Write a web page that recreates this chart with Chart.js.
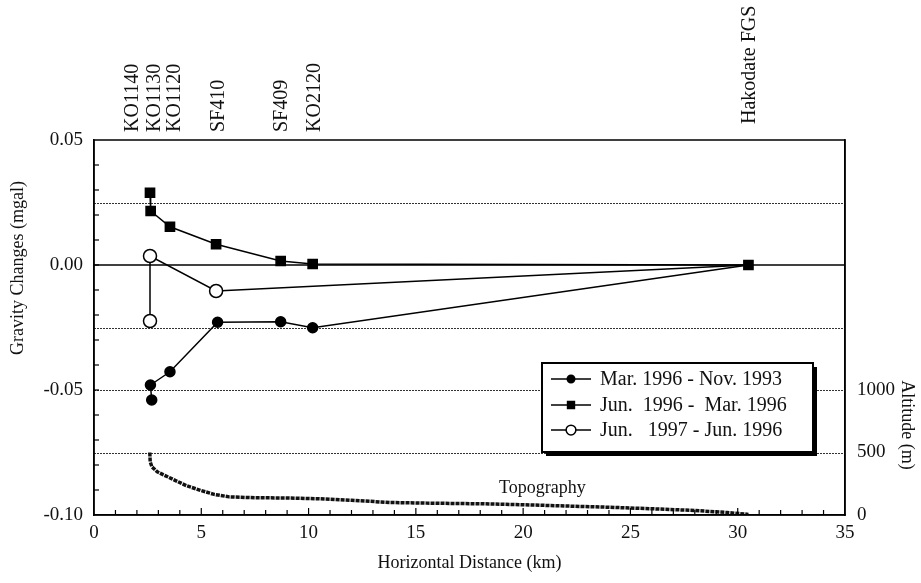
<!DOCTYPE html>
<html>
<head>
<meta charset="utf-8">
<script src="https://cdn.jsdelivr.net/npm/chart.js@4/dist/chart.umd.min.js"></script>
<style>
    html, body { margin: 0; padding: 0; background: #fff; }
    canvas { display: block; }
</style>
</head>
<body>
<canvas id="gravityChart" width="921" height="583"></canvas>
<script>
// stations marked along the top edge (label position in km)
const stationNames = ["KO1140", "KO1130", "KO1120", "SF410", "SF409", "KO2120", "Hakodate FGS"];
const stationLabelKm = [1.82, 2.84, 3.77, 5.82, 8.76, 10.3, 30.57];

// Mar. 1996 - Nov. 1993
const marDist = [2.69, 2.63, 3.54, 5.76, 8.7, 10.19, 30.5];
const marGrav = [-0.054, -0.048, -0.0427, -0.0229, -0.0227, -0.0251, 0];

// Jun. 1996 - Mar. 1996
const junDist = [2.61, 2.64, 3.54, 5.69, 8.7, 10.19, 30.5];
const junGrav = [0.0289, 0.0216, 0.0153, 0.0083, 0.0016, 0.0004, 0];

// Jun. 1997 - Jun. 1996
const jun97Dist = [2.61, 2.61, 5.69, 30.5];
const jun97Grav = [-0.0224, 0.0036, -0.0104, 0];

// topography profile (km, m)
const topoDist = [2.6, 2.62, 2.7, 2.95, 3.5, 4.3, 5.0, 5.6, 6.3, 7.5, 9.0, 10.5, 12, 13.8, 15.5, 18, 20, 22, 24, 26, 28, 29.5, 30.5];
const topoAlt = [500, 425, 385, 345, 300, 235, 195, 165, 145, 138, 136, 130, 118, 100, 95, 90, 82, 72, 62, 50, 36, 20, 5];

const gridLevels = [0.025, -0.025, -0.05, -0.075];
const altitudeTicks = [0, 500, 1000];

const legendLabels = ["Mar. 1996 - Nov. 1993", "Jun.  1996 -  Mar. 1996", "Jun.   1997 - Jun. 1996"];

const toPoints = (xs, ys) => xs.map((x, i) => ({ x: x, y: ys[i] }));

// the reference station (last point) only shows the square marker
const hideLast = (r) => (ctx) => ctx.dataIndex === ctx.dataset.data.length - 1 ? 0 : r;

const FONT = "'Liberation Serif', 'DejaVu Serif', serif";
Chart.defaults.font.family = FONT;
Chart.defaults.font.size = 19;
Chart.defaults.color = "#111";

const decorations = {
    id: "decorations",
    beforeDatasetsDraw(chart) {
        const { ctx, chartArea, scales } = chart;
        ctx.save();
        gridLevels.forEach((v) => {
            const y = Math.round(scales.y.getPixelForValue(v)) + 0.5;
            ctx.strokeStyle = "#333";
            ctx.lineWidth = 1;
            ctx.setLineDash([2, 1]);
            ctx.beginPath();
            ctx.moveTo(chartArea.left, y);
            ctx.lineTo(chartArea.right, y);
            ctx.stroke();
        });
        ctx.setLineDash([]);
        const y0 = scales.y.getPixelForValue(0);
        ctx.strokeStyle = "#000";
        ctx.lineWidth = 1.5;
        ctx.beginPath();
        ctx.moveTo(chartArea.left, y0);
        ctx.lineTo(chartArea.right, y0);
        ctx.stroke();
        ctx.restore();
    },
    afterDraw(chart) {
        const { ctx, chartArea, scales } = chart;
        const { left, right, top, bottom } = chartArea;
        ctx.save();

        // frame
        ctx.strokeStyle = "#000";
        ctx.lineWidth = 1.5;
        ctx.strokeRect(left, top, right - left, bottom - top);

        // inward tick marks
        ctx.lineWidth = 1.2;
        for (let k = 1; k < 35; k++) {
            const x = scales.x.getPixelForValue(k);
            const len = k % 5 === 0 ? 7 : 5;
            ctx.beginPath();
            ctx.moveTo(x, bottom);
            ctx.lineTo(x, bottom - len);
            ctx.stroke();
        }
        for (let g = -9; g <= 4; g++) {
            const y = scales.y.getPixelForValue(g / 100);
            ctx.beginPath();
            ctx.moveTo(left, y);
            ctx.lineTo(left + 5, y);
            ctx.stroke();
        }

        // station labels
        ctx.fillStyle = "#111";
        ctx.font = "20px " + FONT;
        ctx.textAlign = "left";
        ctx.textBaseline = "middle";
        stationNames.forEach((name, i) => {
            const x = scales.x.getPixelForValue(stationLabelKm[i]);
            ctx.save();
            ctx.translate(x, top - (i === stationNames.length - 1 ? 16 : 8));
            ctx.rotate(-Math.PI / 2);
            ctx.fillText(name, 0, 0);
            ctx.restore();
        });

        // axis titles
        ctx.font = "18px " + FONT;
        ctx.textAlign = "center";
        ctx.save();
        ctx.translate(18, 268);
        ctx.rotate(-Math.PI / 2);
        ctx.fillText("Gravity Changes (mgal)", 0, 0);
        ctx.restore();

        ctx.fillText("Horizontal Distance (km)", (left + right) / 2, 563);

        ctx.save();
        ctx.translate(907, 425);
        ctx.rotate(Math.PI / 2);
        ctx.fillText("Altitude (m)", 0, 0);
        ctx.restore();

        // topography label
        ctx.fillText("Topography", scales.x.getPixelForValue(20.9), scales.y2.getPixelForValue(216));

        // legend
        const lx = 542, ly = 363, lw = 271, lh = 89;
        ctx.fillStyle = "#000";
        ctx.fillRect(lx + 4, ly + 4, lw, lh);
        ctx.fillStyle = "#fff";
        ctx.fillRect(lx, ly, lw, lh);
        ctx.strokeStyle = "#000";
        ctx.lineWidth = 2;
        ctx.strokeRect(lx, ly, lw, lh);

        const rows = [379, 405, 430];
        const legendRadius = [5, 6.5, 6.5];
        ctx.font = "20px " + FONT;
        ctx.textAlign = "left";
        ctx.textBaseline = "middle";
        chart.data.datasets.slice(0, 3).forEach((ds, i) => {
            const y = rows[i];
            ctx.strokeStyle = "#000";
            ctx.lineWidth = 1.5;
            ctx.beginPath();
            ctx.moveTo(lx + 9, y);
            ctx.lineTo(lx + 49, y);
            ctx.stroke();
            ctx.fillStyle = ds.pointBackgroundColor;
            ctx.beginPath();
            const r = legendRadius[i] * 0.75;
            if (ds.pointStyle === "rect") {
                const s = r * Math.SQRT1_2;
                ctx.rect(lx + 29 - s, y - s, 2 * s, 2 * s);
            } else {
                ctx.arc(lx + 29, y, r, 0, Math.PI * 2);
            }
            ctx.fill();
            ctx.stroke();
            ctx.fillStyle = "#111";
            ctx.fillText(legendLabels[i], lx + 58, y + 1);
        });

        ctx.restore();
    },
};

new Chart(document.getElementById("gravityChart").getContext("2d"), {
    type: "line",
    data: {
        datasets: [
            {
                label: legendLabels[0],
                data: toPoints(marDist, marGrav),
                borderColor: "#000",
                borderWidth: 1.5,
                pointStyle: "circle",
                pointRadius: hideLast(5),
                pointBackgroundColor: "#000",
                pointBorderColor: "#000",
                yAxisID: "y",
                order: 2,
            },
            {
                label: legendLabels[1],
                data: toPoints(junDist, junGrav),
                borderColor: "#000",
                borderWidth: 1.5,
                pointStyle: "rect",
                pointRadius: 6.5,
                pointBackgroundColor: "#000",
                pointBorderColor: "#000",
                yAxisID: "y",
                order: 0,
            },
            {
                label: legendLabels[2],
                data: toPoints(jun97Dist, jun97Grav),
                borderColor: "#000",
                borderWidth: 1.5,
                pointStyle: "circle",
                pointRadius: hideLast(6.5),
                pointBackgroundColor: "#fff",
                pointBorderColor: "#000",
                pointBorderWidth: 1.5,
                yAxisID: "y",
                order: 3,
            },
            {
                label: "Topography",
                data: toPoints(topoDist, topoAlt),
                borderColor: "#111",
                borderWidth: 3.5,
                borderDash: [4, 1],
                pointRadius: 0,
                yAxisID: "y2",
                order: 4,
            },
        ],
    },
    options: {
        responsive: false,
        animation: false,
        layout: { padding: { top: 140, left: 0, right: 0, bottom: 0 } },
        plugins: {
            legend: { display: false },
            tooltip: { enabled: false },
        },
        elements: { line: { tension: 0 } },
        scales: {
            x: {
                type: "linear",
                min: 0,
                max: 35,
                grid: { display: false, drawTicks: false },
                border: { display: true, color: "#000", width: 1.5 },
                ticks: { stepSize: 5, padding: 7, color: "#111" },
                afterFit: (scale) => { scale.height = 68; },
            },
            y: {
                type: "linear",
                position: "left",
                min: -0.1,
                max: 0.05,
                grid: { display: false, drawTicks: false },
                border: { display: true, color: "#000", width: 1.5 },
                ticks: {
                    stepSize: 0.05,
                    padding: 11,
                    color: "#111",
                    callback: (v) => Number(v).toFixed(2),
                },
                afterFit: (scale) => { scale.width = 94; },
            },
            y2: {
                type: "linear",
                position: "right",
                min: 0,
                max: 3000,
                grid: { display: false, drawTicks: false },
                border: { display: true, color: "#000", width: 1.5 },
                afterBuildTicks: (scale) => {
                    scale.ticks = altitudeTicks.map((v) => ({ value: v }));
                },
                ticks: { padding: 12, color: "#111", callback: (v) => String(v) },
                afterFit: (scale) => { scale.width = 76; },
            },
        },
    },
    plugins: [decorations],
});
</script>
</body>
</html>
